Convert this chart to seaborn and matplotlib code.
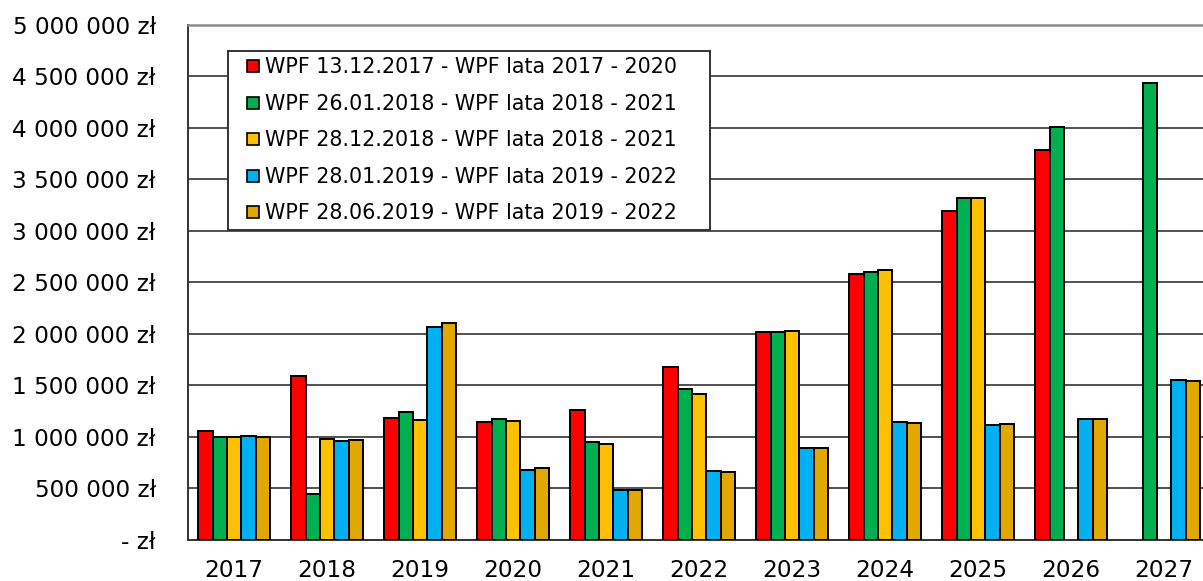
import numpy as np
import pandas as pd
import matplotlib
matplotlib.use("Agg")
import matplotlib.pyplot as plt
from matplotlib.lines import Line2D
from matplotlib.ticker import FuncFormatter
import seaborn as sns

years = ["2017", "2018", "2019", "2020", "2021", "2022", "2023", "2024", "2025", "2026", "2027"]

names = [
    "WPF 13.12.2017 - WPF lata 2017 - 2020",
    "WPF 26.01.2018 - WPF lata 2018 - 2021",
    "WPF 28.12.2018 - WPF lata 2018 - 2021",
    "WPF 28.01.2019 - WPF lata 2019 - 2022",
    "WPF 28.06.2019 - WPF lata 2019 - 2022",
]

wpf_2017_12 = [1060000, 1590000, 1180000, 1143000, 1263000, 1675000, 2019000, 2581000, 3192000, 3783000, None]
wpf_2018_01 = [1000000, 445000, 1240000, 1169000, 951000, 1464000, 2016000, 2600000, 3321000, 4009000, 4429000]
wpf_2018_12 = [1000000, 980000, 1166000, 1159000, 929000, 1416000, 2029000, 2614000, 3321000, None, None]
wpf_2019_01 = [1006000, 964000, 2062000, 679000, 487000, 669000, 896000, 1143000, 1114000, 1178000, 1553000]
wpf_2019_06 = [1000000, 974000, 2101000, 701000, 487000, 662000, 890000, 1133000, 1123000, 1172000, 1546000]

colors = ["#FF0000", "#00B050", "#FFC000", "#00B0F0", "#E0A800"]

rows = []
for name, vals in zip(names, [wpf_2017_12, wpf_2018_01, wpf_2018_12, wpf_2019_01, wpf_2019_06]):
    for y, v in zip(years, vals):
        if v is not None:
            rows.append({"rok": y, "seria": name, "kwota": v})
df = pd.DataFrame(rows)

sns.set_style("white")
plt.rcParams["font.family"] = ["DejaVu Sans"]

fig = plt.figure(figsize=(12.03, 5.81), dpi=100)
ax = fig.add_axes([187.7 / 1203, 1 - 540 / 581, 1023 / 1203, (540 - 24.5) / 581])

sns.barplot(data=df, x="rok", y="kwota", hue="seria", order=years, hue_order=names,
            palette=dict(zip(names, colors)), saturation=1, width=0.77,
            edgecolor="black", linewidth=1.4, legend=False, ax=ax, zorder=3)

ax.set_xlim(-0.5, len(years) - 0.5)
ax.set_ylim(0, 5000000)
ax.set_yticks(np.arange(0, 5000001, 500000))
ax.yaxis.set_major_formatter(FuncFormatter(
    lambda v, p: "- zł" if v == 0 else f"{int(v):,} zł".replace(",", " ")))
ax.set_xlabel("")
ax.set_ylabel("")

ax.yaxis.grid(True, color="#333333", linewidth=1.2, zorder=0)
ax.set_axisbelow(True)

ax.set_xticks(np.arange(-0.5, len(years), 1), minor=True)
ax.tick_params(axis="x", which="major", length=0, pad=14, labelsize=16.7, colors="black")
ax.tick_params(axis="x", which="minor", length=5.5, width=1.2, direction="out", color="#333333")
ax.tick_params(axis="y", length=7.2, width=1.2, direction="out", pad=15.8,
               labelsize=16.7, color="#333333", labelcolor="black")

for s in ["left", "bottom"]:
    ax.spines[s].set_color("#333333")
    ax.spines[s].set_linewidth(1.4)
ax.spines["right"].set_visible(False)
ax.spines["top"].set_color("#8c8c8c")
ax.spines["top"].set_linewidth(1.8)

handles = [Line2D([], [], marker="s", linestyle="none", markersize=8.5,
                  markerfacecolor=c, markeredgecolor="black", markeredgewidth=1.2)
           for c in colors]
leg = fig.legend(handles, names, loc="upper left",
                 bbox_to_anchor=(228 / 1203, 1 - 230 / 581, 482 / 1203, 179 / 581),
                 mode="expand", borderaxespad=0, fontsize=14.9, frameon=True,
                 fancybox=False, framealpha=1, edgecolor="#333333",
                 handlelength=1.8, handletextpad=-0.3, labelspacing=0.8, borderpad=0.3)
leg.get_frame().set_linewidth(1.4)
for t in leg.get_texts():
    t.set_color("black")

plt.savefig("out.png", dpi=100)
